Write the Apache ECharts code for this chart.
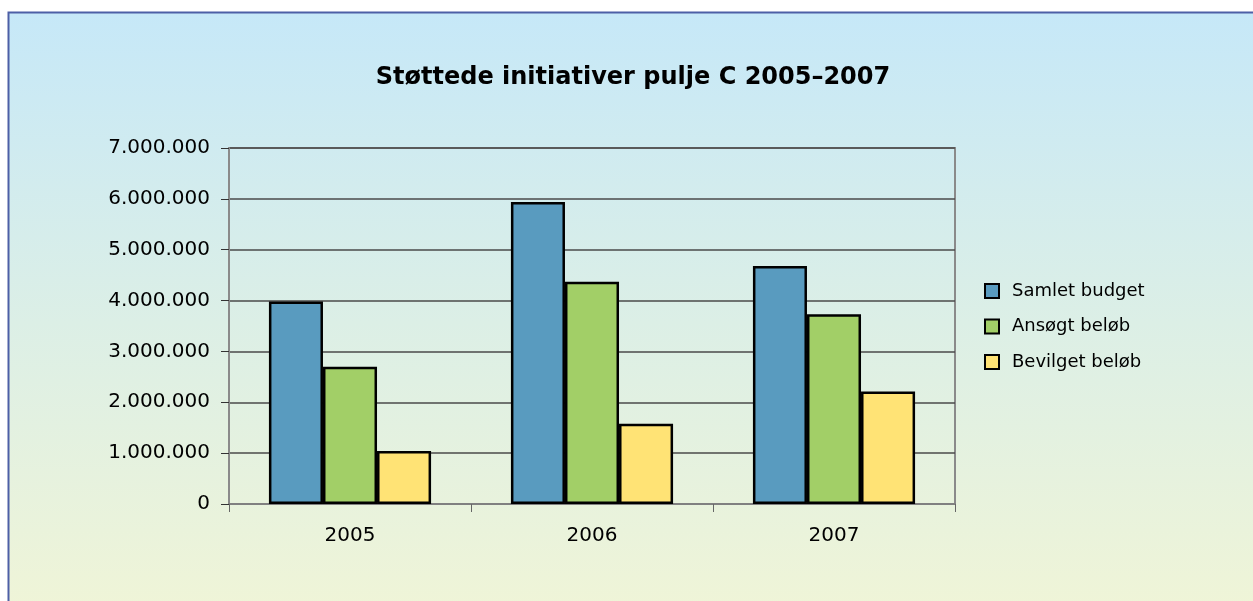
<!DOCTYPE html>
<html>
<head>
<meta charset="utf-8">
<script src="https://cdn.jsdelivr.net/npm/echarts@6/dist/echarts.min.js"></script>
<style>
body {
  margin: 0;
  background: #ffffff;
}
#chart {
  width: 1253px;
  height: 601px;
}
</style>
</head>
<body>
<div id="chart"></div>
<script>
// data
const years = ["2005", "2006", "2007"];
const seriesNames = ["Samlet budget", "Ansøgt beløb", "Bevilget beløb"];
const samletBudget = [3980000, 5940000, 4680000];
const ansoegtBeloeb = [2700000, 4370000, 3730000];
const bevilgetBeloeb = [1040000, 1580000, 2210000];
const barColors = ["#599bbf", "#a2cf67", "#ffe375"];

const font = "DejaVu Sans";

// 7000000 -> "7.000.000"
function dotThousands(v) {
  return String(v).replace(/\B(?=(\d{3})+(?!\d))/g, ".");
}

const chart = echarts.init(document.getElementById("chart"));

const allValues = [samletBudget, ansoegtBeloeb, bevilgetBeloeb];

chart.setOption({
  animation: false,
  textStyle: { fontFamily: font },
  graphic: [
    {
      type: "rect",
      z: -10,
      shape: { x: 8.5, y: 12.5, width: 1260, height: 620 },
      style: {
        fill: new echarts.graphic.LinearGradient(0, 0, 0, 1, [
          { offset: 0, color: "#c6e8f8" },
          { offset: 0.5, color: "#dcefe6" },
          { offset: 1, color: "#f1f5d6" }
        ]),
        stroke: "#4d5fa6",
        lineWidth: 2
      }
    }
  ],
  title: {
    text: "Støttede initiativer pulje C 2005–2007",
    left: 628,
    textAlign: "center",
    top: 61,
    textStyle: {
      fontFamily: font,
      fontWeight: "bold",
      fontSize: 24,
      color: "#000"
    }
  },
  legend: {
    orient: "vertical",
    left: 979,
    top: 277,
    icon: "rect",
    itemWidth: 14,
    itemHeight: 14,
    itemGap: 17.5,
    data: seriesNames,
    textStyle: { fontFamily: font, fontSize: 18, color: "#000", padding: [0, 0, 0, 8] }
  },
  grid: {
    left: 229,
    right: 298,
    top: 148,
    bottom: 97,
    show: true,
    borderColor: "#8a8a8a",
    borderWidth: 2,
    backgroundColor: "transparent"
  },
  xAxis: {
    type: "category",
    data: years,
    axisLine: { lineStyle: { color: "#808080", width: 2 } },
    axisTick: { show: true, length: 8, lineStyle: { color: "#666", width: 1 } },
    axisLabel: { fontFamily: font, fontSize: 20, color: "#000", margin: 22 }
  },
  yAxis: {
    type: "value",
    min: 0,
    max: 7000000,
    interval: 1000000,
    axisLine: { show: true, lineStyle: { color: "#8a8a8a", width: 2 } },
    axisTick: { show: true, length: 8, lineStyle: { color: "#333", width: 1 } },
    axisLabel: {
      fontFamily: font,
      fontSize: 20,
      color: "#000",
      margin: 19,
      formatter: dotThousands
    },
    splitLine: { lineStyle: { color: "#4a4a4a", width: 1.5 } }
  },
  series: seriesNames.map((name, i) => ({
    name: name,
    type: "bar",
    data: allValues[i],
    barGap: "0%",
    barCategoryGap: "33%",
    itemStyle: {
      color: barColors[i],
      borderColor: "#000",
      borderWidth: 2.5
    }
  }))
});
</script>
</body>
</html>
